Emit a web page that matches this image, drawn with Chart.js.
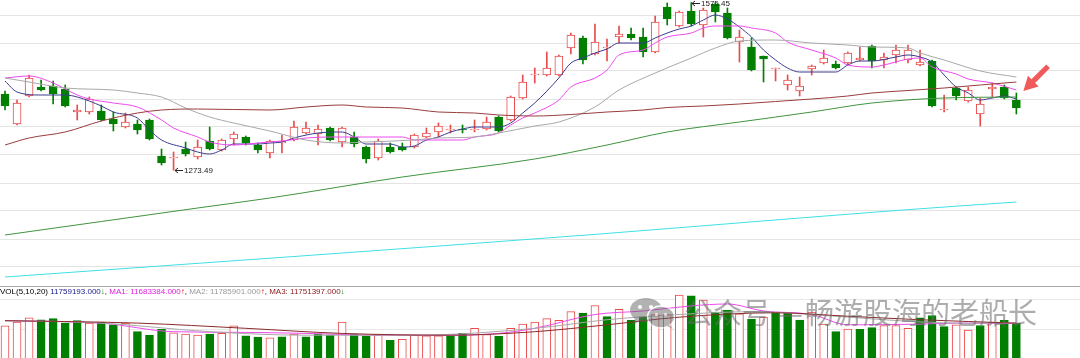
<!DOCTYPE html>
<html><head><meta charset="utf-8">
<script src="https://cdn.jsdelivr.net/npm/chart.js@4/dist/chart.umd.min.js"></script>
<style>
html,body{margin:0;padding:0;background:#fff;width:1080px;height:358px;overflow:hidden;position:relative;}
canvas{position:absolute;left:0;}
#price{top:0;width:1080px;height:284px;}
#vol{top:287px;width:1080px;height:71px;}
#sep{position:absolute;left:0;top:286px;width:1080px;height:1px;background:#a8a8a8;}
#hdr{position:absolute;left:0;top:287px;font:8px "Liberation Sans",sans-serif;white-space:nowrap;line-height:9px;color:#000;}
.wm{position:absolute;top:296px;font:29px/31px "Noto Sans CJK SC",sans-serif;color:rgba(105,105,105,0.55);white-space:nowrap;}
#wx{position:absolute;left:629px;top:298px;}
</style></head><body>
<canvas id="price" width="1080" height="284"></canvas>
<div id="sep"></div>
<canvas id="vol" width="1080" height="71"></canvas>
<div id="hdr"></div>
<svg id="wx" width="48" height="32" viewBox="0 0 48 32"><g opacity="0.5">
<ellipse cx="17" cy="12" rx="16" ry="12" fill="#666"/><path d="M6 20 L4 27 L12 22 Z" fill="#666"/>
<circle cx="11" cy="9" r="2" fill="#fff"/><circle cx="22" cy="9" r="2" fill="#fff"/>
<ellipse cx="32" cy="19" rx="13.5" ry="11" fill="#666" stroke="#fff" stroke-width="1.5"/><path d="M40 27 L44 31 L38 28 Z" fill="#666"/>
<circle cx="27.5" cy="16.5" r="1.6" fill="#fff"/><circle cx="36.5" cy="16.5" r="1.6" fill="#fff"/></g></svg>
<div class="wm" style="left:684px">公众号</div>
<div class="wm" style="left:777px">—</div>
<div class="wm" style="left:805px">畅游股海的老船长</div>
<script>
// ---- candle data (price) ----
const opens  = [1410.8,1356.8,1407.2,1423.4,1425.2,1419.8,1378.4,1378.4,1380.2,1365.8,1351.4,1356.8,1364,1299.2,1295.6,1311.8,1297.4,1326.2,1310,1329.8,1333.4,1319,1304.6,1322.6,1328,1340.6,1338.8,1349.6,1324.4,1333.4,1315.4,1295.6,1315.4,1315.4,1315.4,1333.4,1342.4,1346,1347.8,1346,1347.8,1369.4,1364,1403.6,1445,1445,1445,1493.6,1511.6,1482.8,1493.6,1513.4,1518.8,1513.4,1486.4,1567.4,1533.2,1560.2,1535,1572.8,1556.6,1504.4,1495.4,1479.2,1455.8,1427,1416.2,1455.8,1466.6,1464.8,1466.6,1472,1497.2,1472,1481,1472,1463,1470.2,1382,1421.6,1398.2,1374.8,1419.8,1423.4,1400];
const highs  = [1416.2,1400,1445,1436,1434.2,1427,1391,1405.4,1391,1378.4,1376.6,1364,1365.8,1311.8,1306.4,1324.4,1328,1351.4,1329.8,1342.4,1335.2,1322.6,1328,1337,1362.2,1360.4,1355,1351.4,1351.4,1342.4,1317.2,1329.8,1322.6,1322.6,1338.8,1349.6,1358.6,1355,1355,1364,1369.4,1371.2,1407.2,1445,1457.6,1486.4,1481,1520.6,1515.2,1536.8,1509.8,1533.2,1529.6,1529.6,1551.2,1574.6,1560.2,1575.45,1565.6,1574.6,1565.6,1526,1511.6,1479.2,1457.6,1445,1441.4,1463,1490,1470.2,1486.4,1495.4,1499,1484.6,1499,1499,1490,1472,1409,1423.4,1423.4,1403.6,1430.6,1427,1412.6];
const lows   = [1382,1355,1405.4,1416.2,1392.8,1387.4,1364,1374.8,1362.2,1344.2,1349.6,1338.8,1328,1283,1273.49,1299.2,1293.8,1310,1308.2,1319,1319,1304.6,1295.6,1304.6,1326.2,1338.8,1319,1326.2,1315.4,1315.4,1286.6,1292,1304.6,1308.2,1313.6,1331.6,1333.4,1340.6,1340.6,1342.4,1346,1342.4,1362.2,1401.8,1430.6,1443.2,1443.2,1482.8,1464.8,1481,1470.2,1502.6,1508,1477.4,1484.6,1535,1531.4,1533.2,1513.4,1540.4,1509.8,1468.4,1452.2,1432.4,1434.2,1418,1407.2,1445,1464.8,1455.8,1463,1470.2,1457.6,1457.6,1466.6,1466.6,1461.2,1387.4,1378.4,1400,1396.4,1353.2,1405.4,1401.8,1374.8];
const closes = [1389.2,1394.6,1439.6,1418,1410.8,1389.2,1382,1401.8,1364,1356.8,1360.4,1346,1329.8,1286.6,1297.4,1302.8,1315.4,1311.8,1328,1338.8,1322.6,1310,1326.2,1325.3,1351.4,1349.6,1347.8,1328,1349.6,1320.8,1293.8,1326.2,1306.4,1310,1337,1340.6,1353.2,1347.8,1346,1347.8,1360.4,1344.2,1405.4,1432.4,1446.8,1457.6,1479.2,1517,1472,1504.4,1495.4,1518.8,1511.6,1486.4,1540.4,1545.8,1558.4,1536.8,1562,1558.4,1511.6,1513.4,1454,1473.8,1457.6,1436,1425.2,1461.2,1475.6,1457.6,1484.6,1475.6,1470.2,1477.4,1490,1490,1468.4,1389.2,1383.8,1407.2,1418,1392.8,1423.4,1403.6,1385.6];
const prevClose = 1386; // close of the day before the first candle (its volume bar is red)
// ---- volume (millions) ----
const vols = [11.32,11.92,12.58,12.29,12.47,11.76,12.14,11.76,11.92,11.49,11.76,10.41,9.86,10.79,10.24,10.03,9.86,10.03,10.14,11.32,9.75,9.55,9.44,9.59,10.03,9.59,10.03,9.86,11.92,10.03,9.70,9.86,9.06,9.22,9.86,9.75,9.75,9.70,10.14,10.94,9.97,9.70,10.94,11.60,11.92,12.47,12.20,13.55,13.33,14.52,12.78,13.93,12.20,12.73,13.11,13.11,16.14,16.03,15.39,13.49,13.82,13.22,12.40,12.69,13.49,13.33,12.25,13.49,11.60,10.41,10.83,10.79,11.05,11.38,11.38,10.94,12.58,12.95,11.21,11.49,10.68,11.38,11.92,12.20,11.759193];
// ---- moving averages: [day index, value] ----
const ma5 = [[0,1434.2],[1,1414.4],[3,1409],[5,1409],[6,1405.4],[8,1389.2],[9,1378.4],[11,1367.6],[12,1346],[13,1328],[15,1313.6],[16,1306.4],[17,1302.8],[18,1310],[19,1320.8],[21,1320.8],[22,1322.6],[23,1324.4],[24,1331.6],[26,1340.6],[28,1342.4],[29,1333.4],[30,1320.8],[32,1320.8],[33,1315.4],[34,1317.2],[35,1328],[36,1333.4],[37,1342.4],[38,1347.8],[39,1351.4],[41,1351.4],[42,1358.6],[43,1376.6],[44,1394.6],[46,1439.6],[47,1466.6],[48,1475.6],[49,1484.6],[50,1491.8],[51,1502.6],[53,1502.6],[54,1511.6],[55,1520.6],[56,1527.8],[57,1533.2],[58,1544],[59,1553],[60,1545.8],[61,1531.4],[62,1513.4],[63,1490],[64,1472],[65,1457.6],[66,1450.4],[69,1450.4],[70,1463],[71,1470.2],[72,1470.2],[74,1477.4],[75,1481],[76,1477.4],[77,1468.4],[78,1445],[79,1423.4],[80,1412.6],[81,1400],[82,1403.6],[83,1407.2],[84,1401.8]];
const ma10 = [[0,1439.6],[2,1443.2],[4,1430.6],[6,1409],[7,1401.8],[9,1394.6],[11,1387.4],[13,1364],[14,1349.6],[16,1333.4],[17,1324.4],[19,1319],[21,1322.6],[22,1324.4],[23,1326.2],[25,1331.6],[27,1333.4],[29,1333.4],[31,1333.4],[33,1333.4],[34,1328],[35,1328],[38,1328],[39,1333.4],[41,1340.6],[42,1355],[43,1367.6],[44,1376.6],[46,1400],[47,1423.4],[49,1439.6],[50,1454],[51,1481],[53,1490],[54,1502.6],[55,1513.4],[57,1520.6],[58,1529.6],[59,1533.2],[61,1533.2],[62,1529.6],[64,1520.6],[65,1504.4],[67,1490],[69,1475.6],[70,1463],[72,1459.4],[73,1463],[75,1473.8],[76,1475.6],[77,1459.4],[79,1446.8],[80,1437.8],[82,1430.6],[84,1418]];
const ma20 = [[0,1439.6],[2,1432.4],[5,1421.6],[9,1418],[11,1412.6],[13,1405.4],[15,1385.6],[17,1369.4],[19,1358.6],[22,1344.2],[25,1328],[28,1322.6],[30,1324.4],[34,1328],[36,1331.6],[39,1333.4],[41,1340.6],[44,1353.2],[46,1360.4],[49,1387.4],[51,1418],[54,1448.6],[57,1475.6],[59,1493.6],[61,1506.2],[64,1508],[67,1502.6],[70,1499],[72,1495.4],[75,1493.6],[76,1484.6],[78,1472],[81,1452.2],[84,1441.4]];
const ma60 = [[0,1319],[2,1331.6],[5,1342.4],[8,1362.2],[11,1376.6],[13,1382],[16,1383.8],[22,1382],[25,1387.4],[28,1391],[30,1387.4],[33,1385.6],[36,1378.4],[39,1376.6],[41,1373],[44,1371.2],[47,1373.9],[50,1378.4],[53,1382],[55,1386.5],[58,1389.2],[61,1392.8],[64,1397.3],[67,1401.8],[70,1407.2],[72,1412.6],[75,1417.1],[78,1421.6],[81,1427],[84,1432.4]];
const ma120 = [[0,1157],[8,1181.3],[16,1205.6],[22,1223.6],[33,1261.4],[44,1293.8],[50,1319],[55,1342.4],[61,1360.4],[67,1378.4],[72,1394.6],[78,1403.6],[84,1405.4]];
const ma250 = [[0,1081.4],[24,1118.3],[49,1158.1],[66,1187.6],[74,1201.1],[84,1216.4]];
const vma1 = [[0,12.14],[8,11.76],[14,10.41],[20,10.30],[25,10.14],[31,9.86],[37,9.86],[41,10.14],[44,10.94],[49,13.11],[53,13.66],[57,14.46],[60,14.76],[63,13.66],[67,13.11],[70,11.49],[76,11.60],[79,11.76],[84,11.683384]];
const vma2 = [[0,12.14],[8,11.76],[17,10.41],[25,9.86],[34,9.86],[44,10.94],[50,12.29],[56,13.11],[62,13.55],[67,13.11],[73,12.29],[79,11.76],[84,11.785901]];
const vma3 = [[0,12.14],[11,11.76],[20,10.94],[28,10.14],[37,9.86],[44,10.41],[50,11.49],[56,12.69],[64,13.38],[70,12.84],[76,12.29],[84,11.751397]];
// header trend arrows: VOL, MA1, MA2, MA3 (true = rising)
const hdrRising = [false, true, true, false];
// ---- axis ranges and grid ticks ----
const priceRange = [1068.8, 1580];
const priceGrid = [1553, 1502.6, 1452.2, 1401.8, 1351.4, 1301, 1250.6, 1200.2, 1149.8, 1099.4];
const volRange = [6.28, 17.427];
const volGrid = [10.83, 15.39];
const dayRange = [-0.415, 89.285];

const N = opens.length;
const idx = opens.map((_, i) => i);
const up = idx.map(i => closes[i] >= opens[i]);
const volUp = idx.map(i => closes[i] >= (i ? closes[i - 1] : prevClose));
const RED = '#ea4b4b', GRN = '#007f00';

const xScale = () => ({type:'linear', min:dayRange[0], max:dayRange[1], display:false, offset:false, grid:{display:false}});
const yScale = (range, grid, color) => ({
  min: range[0], max: range[1], display: true, position: 'left',
  border: {display:false}, ticks: {display:false},
  grid: {color: color, drawTicks:false, lineWidth:1},
  afterBuildTicks: ax => { ax.ticks = grid.map(v => ({value:v})); }
});
const lineDs = (pairs, color, w) => ({
  type:'line', data: pairs.map(([i, v]) => ({x:i, y:v})), borderColor: color, borderWidth: w || 1,
  pointRadius: 0, fill:false, cubicInterpolationMode:'monotone', order: 0
});

const marks = {
  id: 'marks',
  afterDraw(chart) {
    const {ctx} = chart, xs = chart.scales.x, ys = chart.scales.y;
    ctx.save();
    ctx.font = '8px "Liberation Sans", sans-serif';
    ctx.textBaseline = 'middle';
    ctx.fillStyle = '#222'; ctx.strokeStyle = '#222'; ctx.lineWidth = 1;
    const label = (i, v) => {
      const px = Math.round(xs.getPixelForValue(i)), py = Math.round(ys.getPixelForValue(v)) + 0.5;
      ctx.beginPath();
      ctx.moveTo(px + 1, py); ctx.lineTo(px + 9, py);
      ctx.moveTo(px + 1, py); ctx.lineTo(px + 4, py - 2.5);
      ctx.moveTo(px + 1, py); ctx.lineTo(px + 4, py + 2.5);
      ctx.stroke();
      ctx.fillText(v.toFixed(2), px + 10, py);
    };
    const lo = Math.min(...lows), hi = Math.max(...highs);
    label(lows.indexOf(lo), lo);
    label(highs.indexOf(hi), hi);
    // red pointer arrow at the last candle
    const tx = xs.getPixelForValue(N - 1) + 7, ty = ys.getPixelForValue(highs[N - 1]) - 2;
    const ux = 0.707, uy = -0.707, pxv = 0.707, pyv = 0.707;
    const pt = (d, w) => [tx + ux * d + pxv * w, ty + uy * d + pyv * w];
    const poly = [pt(0,0), pt(14,7.5), pt(14,2.6), pt(35,2.6), pt(35,-2.6), pt(14,-2.6), pt(14,-7.5)];
    ctx.fillStyle = '#f05a5a';
    ctx.beginPath(); poly.forEach((p, k) => k ? ctx.lineTo(p[0], p[1]) : ctx.moveTo(p[0], p[1])); ctx.closePath(); ctx.fill();
    ctx.restore();
  }
};

const common = {
  responsive:false, animation:false, devicePixelRatio:1, events:[],
  layout:{padding:0},
  plugins:{legend:{display:false}, tooltip:{enabled:false}}
};

new Chart(document.getElementById('price'), {
  type:'bar',
  data:{datasets:[
    {type:'bar', data: idx.map(i => ({x:i, y:[lows[i], highs[i]]})), backgroundColor: idx.map(i => up[i] ? RED : GRN),
     borderWidth:0, barThickness:1, grouped:false, order:3},
    {type:'bar', data: idx.map(i => ({x:i, y:[opens[i], closes[i]]})), backgroundColor: idx.map(i => up[i] ? '#fff' : GRN),
     borderColor: idx.map(i => up[i] ? RED : GRN), borderWidth:1, borderSkipped:false, barThickness:8, minBarLength:1, grouped:false, order:2},
    lineDs(ma250, '#3fe0e6'),
    lineDs(ma120, '#3f943f'),
    lineDs(ma60, '#9a3c3c'),
    lineDs(ma20, '#a8a8a8'),
    lineDs(ma10, '#ee4aee'),
    lineDs(ma5, '#3b3b8f')
  ]},
  options:Object.assign({}, common, {scales:{x:xScale(), y:yScale(priceRange, priceGrid, '#e4e4e4')}}),
  plugins:[marks]
});

new Chart(document.getElementById('vol'), {
  type:'bar',
  data:{datasets:[
    {type:'bar', data: idx.map(i => ({x:i, y:vols[i]})), backgroundColor: idx.map(i => volUp[i] ? '#fff' : GRN),
     borderColor: idx.map(i => volUp[i] ? RED : GRN), borderWidth:1, borderSkipped:false, barThickness:8, grouped:false, order:2},
    lineDs(vma3, '#8b2a2a'),
    lineDs(vma2, '#a8a8a8'),
    lineDs(vma1, '#ee4aee')
  ]},
  options:Object.assign({}, common, {scales:{x:xScale(), y:yScale(volRange, volGrid, '#e8e8e8')}})
});

// header text from the last values
const fmt = v => (v * 1e6).toFixed(3);
const last = a => a[a.length - 1][1];
const arr = k => hdrRising[k] ? '<span style="color:#e00000">↑</span>' : '<span style="color:#008000">↓</span>';
document.getElementById('hdr').innerHTML =
  'VOL(5,10,20) <span style="color:#202090">' + fmt(vols[N-1]) + '</span>' + arr(0) + ', ' +
  '<span style="color:#e020e0">MA1: ' + fmt(last(vma1)) + '</span>' + arr(1) + ', ' +
  '<span style="color:#9a9a9a">MA2: ' + fmt(last(vma2)) + '</span>' + arr(2) + ', ' +
  '<span style="color:#8b1a1a">MA3: ' + fmt(last(vma3)) + '</span>' + arr(3);
</script>
</body></html>
